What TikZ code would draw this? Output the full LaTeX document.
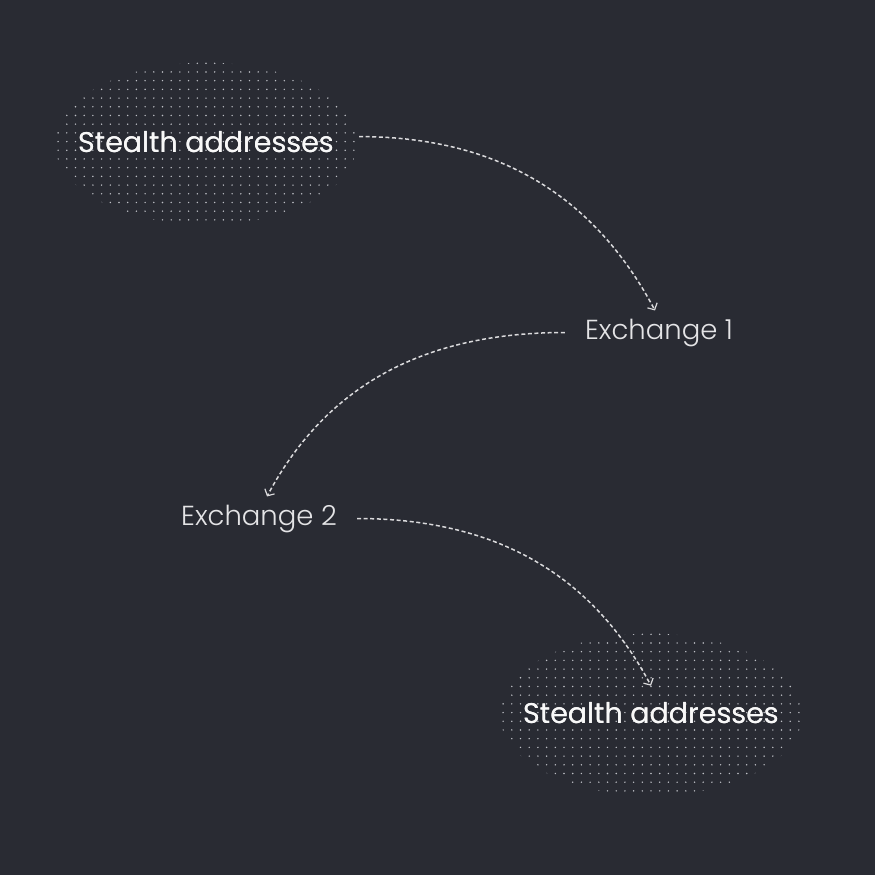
\documentclass[tikz,border=0pt]{standalone}
\usepackage{fontspec}
\setmainfont{Poppins}
\newfontfamily\lightfont{Poppins Light}
\usepackage{tikz}
\usetikzlibrary{positioning,arrows.meta}
\definecolor{bgc}{RGB}{41,43,51}
\definecolor{linec}{RGB}{218,218,220}
\definecolor{dotc}{RGB}{190,192,198}
\definecolor{textc}{RGB}{248,248,248}
\definecolor{lightc}{RGB}{228,228,230}

\begin{document}
\begin{tikzpicture}[%
    x=1pt, y=-1pt,
    >={Straight Barb[length=5pt,width=11pt,line width=1.2pt]},
    flow/.style={->, draw=linec, line width=1.5pt, dash pattern=on 4pt off 2.6pt},
    addr/.style={text=textc, font=\fontsize{28.5}{32}\selectfont,
                 inner xsep=25pt, inner ysep=16pt, anchor=base},
    exch/.style={text=lightc, font=\lightfont\fontsize{27.5}{32}\selectfont,
                 inner xsep=20pt, inner ysep=8pt, anchor=base}
  ]
    \fill[bgc] (0,0) rectangle (875,875);
    \useasboundingbox (0,0) rectangle (875,875);

    \node[addr] (addrA) at (206,152) {Stealth addresses};
    \node[exch] (ex1) at (659,339) {Exchange 1};
    \node[exch] (ex2) at (259,525) {Exchange 2};
    \node[addr] (addrB) at (651,723) {Stealth addresses};

    % dotted clouds behind the two address labels
    \foreach \c in {addrA,addrB} {
      \begin{scope}
        \clip ([yshift=-2pt]\c.center) ellipse [x radius=151pt, y radius=81pt];
        \foreach \i in {-18,...,18}
          \foreach \j in {-10,...,10}
            \fill[dotc] ([shift={(\i*8.7,\j*8.7)}]\c.center) circle (0.8pt);
      \end{scope}
    }
    % redraw the labels above the dots
    \node[addr] at (addrA.base) {Stealth addresses};
    \node[addr] at (addrB.base) {Stealth addresses};

    \draw[flow] ([yshift=5pt]addrA.east) to[out=0, in=118] ([xshift=-4pt]ex1.north);
    \draw[flow] (ex1.west) to[out=180, in=62] ([xshift=8pt]ex2.north);
    \draw[flow] (ex2.east) to[out=0, in=118] (addrB.north);
  \end{tikzpicture}
\end{document}
